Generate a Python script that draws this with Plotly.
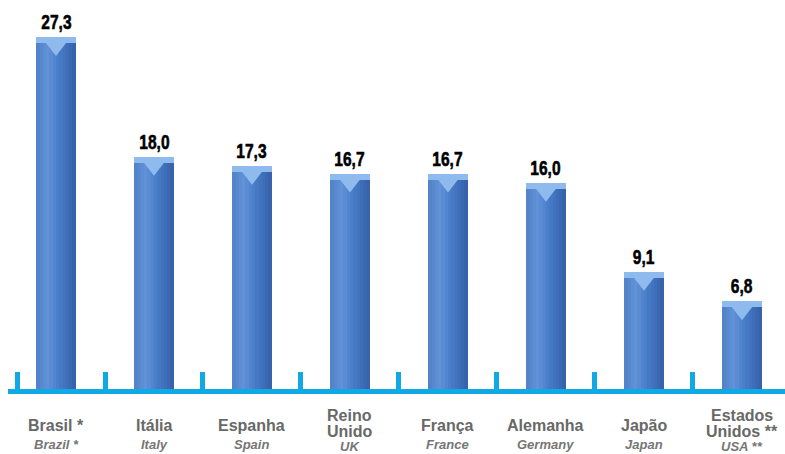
import plotly.graph_objects as go

# ---- data ----
pt_names = ["Brasil *", "Itália", "Espanha", "Reino<br>Unido", "França", "Alemanha", "Japão", "Estados<br>Unidos **"]
en_names = ["Brazil *", "Italy", "Spain", "UK", "France", "Germany", "Japan", "USA **"]
values = [27.3, 18.0, 17.3, 16.7, 16.7, 16.0, 9.1, 6.8]
divider_ticks = [-0.39, 0.5, 1.5, 2.5, 3.5, 4.5, 5.5, 6.5]

FONT = "Liberation Sans, Arial, sans-serif"
CYAN = "#10a9e6"
Y_MAX = 30.16
PLOT_H = 389
px_per_unit = PLOT_H / Y_MAX

xs = list(range(len(values)))
fig = go.Figure()

# cylinder-like shading via narrow strips
stops = [(0.0, (80, 128, 198)), (0.28, (98, 146, 216)), (0.55, (74, 126, 202)), (1.0, (52, 96, 168))]
def col(t):
    for (t0, c0), (t1, c1) in zip(stops, stops[1:]):
        if t0 <= t <= t1:
            f = (t - t0) / (t1 - t0)
            return "rgb(%d,%d,%d)" % tuple(round(a + (b - a) * f) for a, b in zip(c0, c1))
    return "rgb(%d,%d,%d)" % stops[-1][1]

W = 0.40
N = 12
for k in range(N):
    fig.add_trace(go.Bar(
        x=xs, y=values, width=W / N + 0.002, offset=-W / 2 + k * W / N,
        marker=dict(color=col((k + 0.5) / N), line=dict(width=0)),
        hoverinfo="skip", showlegend=False,
    ))

# top bevel highlight: light band + shallow V
CAP = "rgb(142,186,238)"
band = 6 / px_per_unit
fig.add_trace(go.Bar(
    x=xs, y=[band] * len(values), base=[v - band for v in values], width=W, offset=-W / 2,
    marker=dict(color=CAP, line=dict(width=0)), hoverinfo="skip", showlegend=False,
))
tri = 24
fig.add_trace(go.Scatter(
    x=xs, y=[v - (tri / 4 + 1) / px_per_unit for v in values], mode="markers",
    marker=dict(symbol="triangle-down", size=tri, color=CAP, line=dict(width=0)),
    hoverinfo="skip", showlegend=False, cliponaxis=False,
))

# value labels
for x, v in zip(xs, values):
    fig.add_annotation(x=x, y=v, xref="x", yref="y", text="<b>%s</b>" % f"{v:.1f}".replace(".", ","),
                       showarrow=False, yanchor="bottom", yshift=2,
                       font=dict(family=FONT, size=21, color="#000000"))

# category labels
for x, pt, en in zip(xs, pt_names, en_names):
    lines = pt.split("<br>")
    if len(lines) == 1:
        shifts, en_shift = [-36], -55
    else:
        shifts, en_shift = [-26, -42], -57
    for line, s in zip(lines, shifts):
        fig.add_annotation(x=x, y=0, xref="x", yref="paper", text="<b>%s</b>" % line, showarrow=False,
                           yanchor="middle", yshift=s,
                           font=dict(family=FONT, size=16, color="#686868"))
    fig.add_annotation(x=x, y=0, xref="x", yref="paper", text="<b><i>%s</i></b>" % en, showarrow=False,
                       yanchor="middle", yshift=en_shift,
                       font=dict(family=FONT, size=13, color="#767676"))

fig.update_layout(
    width=785, height=454, margin=dict(l=8, r=0, t=0, b=454 - PLOT_H),
    plot_bgcolor="white", paper_bgcolor="white", barmode="overlay", bargap=0,
    xaxis=dict(range=[-0.4898, 7.439], showgrid=False, zeroline=False, showticklabels=False,
               showline=True, linecolor=CYAN, linewidth=5,
               tickmode="array", tickvals=divider_ticks, ticks="inside", ticklen=17,
               tickwidth=5, tickcolor=CYAN),
    yaxis=dict(range=[0, Y_MAX], visible=False),
)

post = """
document.body.style.margin = '0';
document.body.style.overflow = 'hidden';
document.querySelectorAll('.annotation-text').forEach(function (t) {
  if (/^\\d+,\\d$/.test(t.textContent)) {
    t.style.transformBox = 'fill-box';
    t.style.transformOrigin = 'center';
    t.style.transform = 'scaleX(0.74)';
    t.style.strokeWidth = '0.6px';
    t.style.stroke = '#000';
  }
});
"""
fig.write_html("out.html", post_script=post, config={"displayModeBar": False})
